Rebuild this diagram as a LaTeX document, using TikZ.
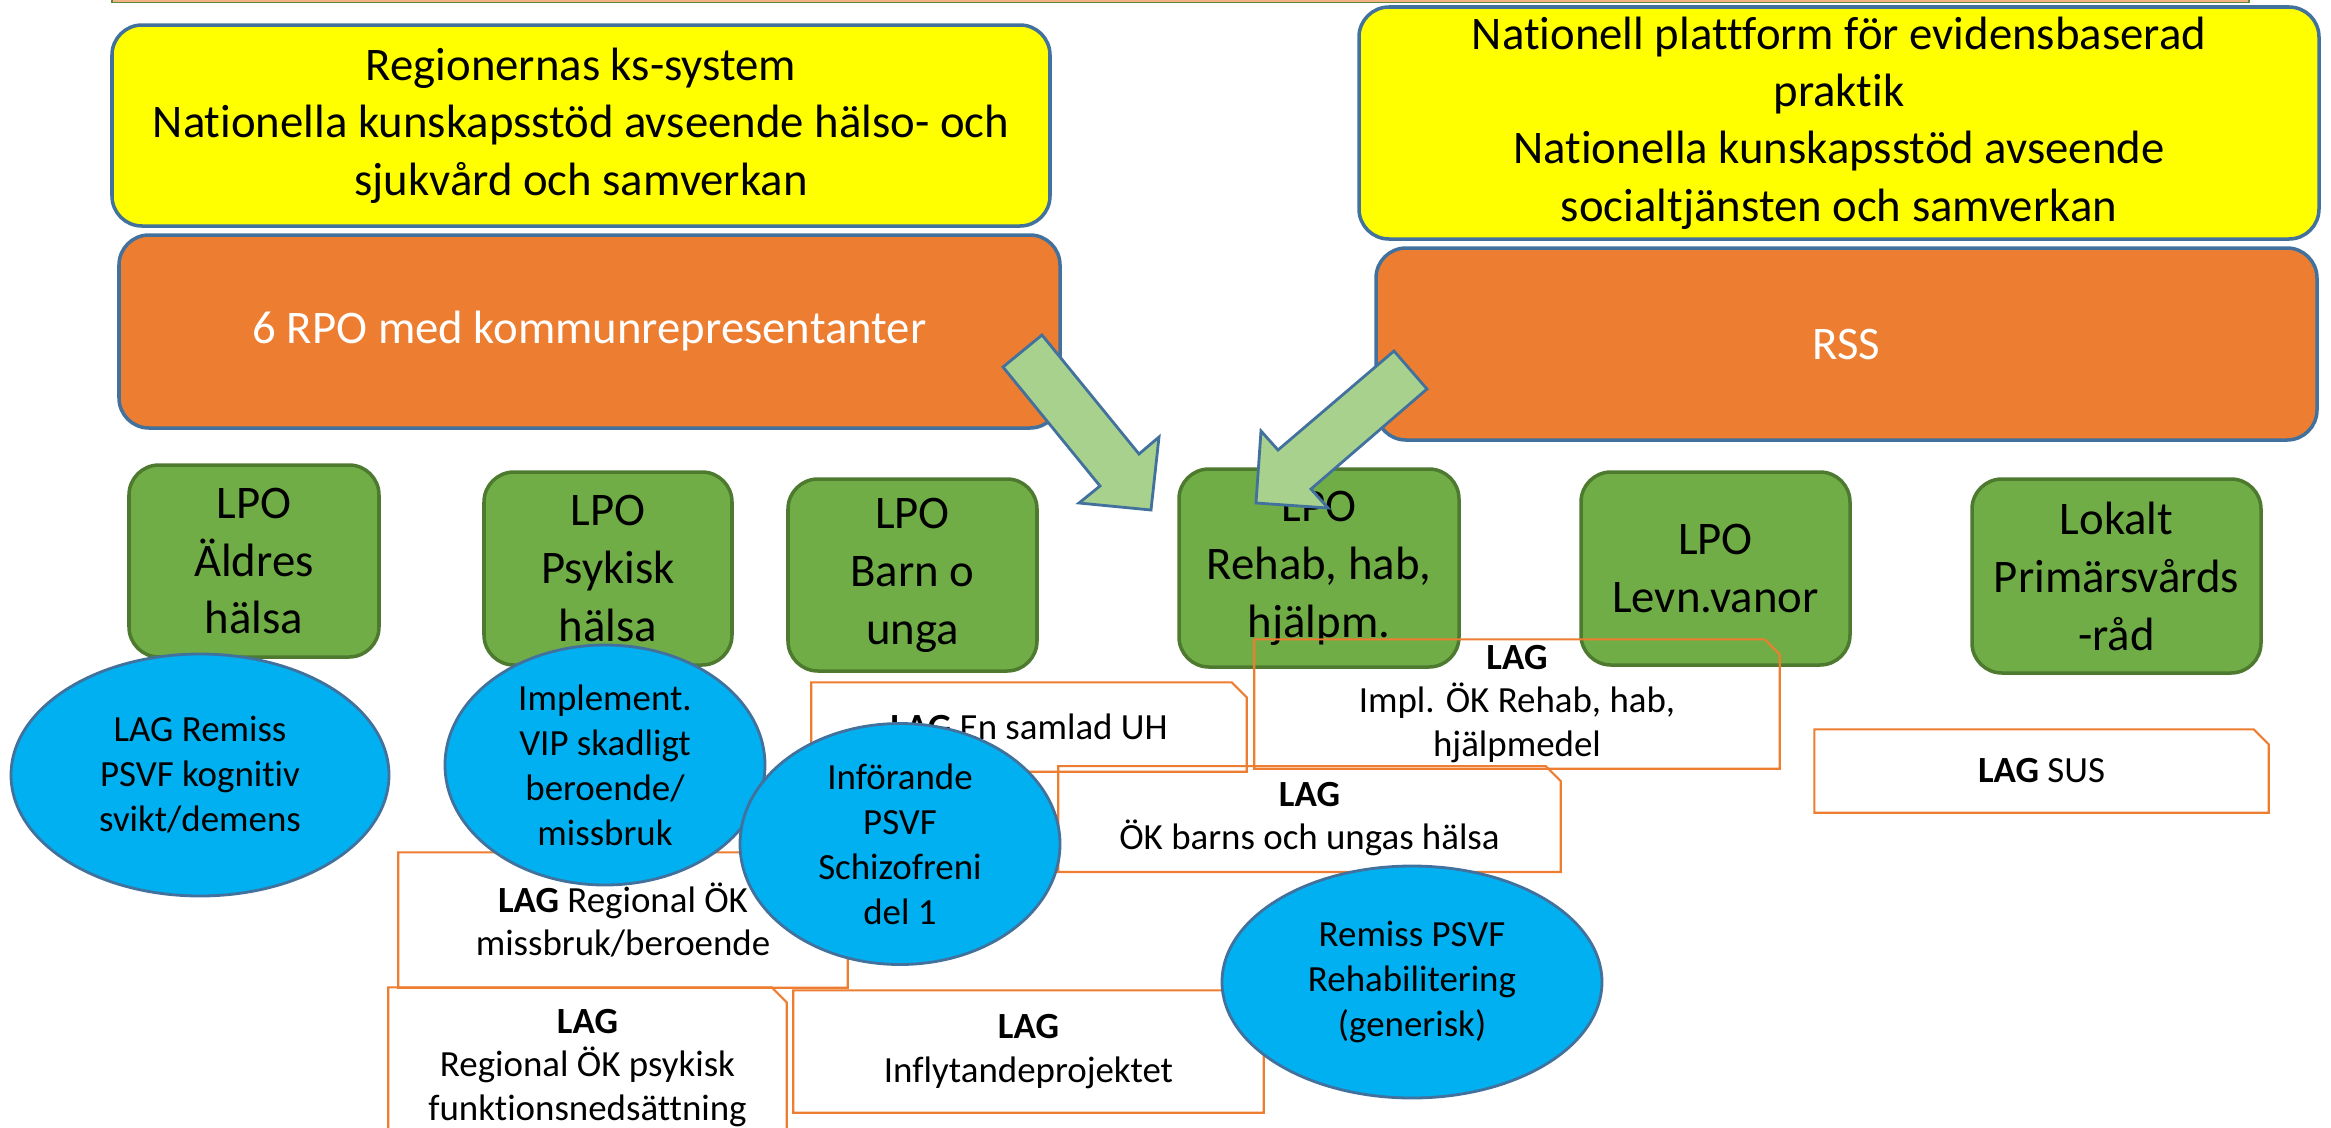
\documentclass[tikz,border=0pt]{standalone}
\usepackage{fontspec}
\setmainfont{Carlito}[Ligatures=NoCommon]
\usepackage{tikz}
\usetikzlibrary{shapes.geometric}
\definecolor{ksyellow}{HTML}{FFFF00}
\definecolor{rpoorange}{HTML}{ED7D31}
\definecolor{edgeblue}{HTML}{41719C}
\definecolor{lpogreen}{HTML}{70AD47}
\definecolor{lpoedge}{HTML}{4E7A30}
\definecolor{bubbleblue}{HTML}{00B0F0}
\definecolor{lagorange}{HTML}{ED7D31}
\definecolor{arrowgreen}{HTML}{A9D18E}
\definecolor{stripfill}{HTML}{F4B183}
\tikzset{
  ksbox/.style={
    rectangle,
    rounded corners=0.3cm,
    fill=ksyellow,
    draw=edgeblue, line width=1pt,
    inner sep=0pt,
    align=center,
    font=\fontsize{13.3}{16.3}\selectfont},
  rpobox/.style={ksbox, fill=rpoorange, text=white},
  lpo/.style={
    rectangle,
    rounded corners=0.3cm,
    fill=lpogreen,
    draw=lpoedge, line width=1pt,
    inner sep=0pt,
    align=center,
    font=\fontsize{13.3}{16.5}\selectfont},
  bubble/.style={
    ellipse,
    fill=bubbleblue,
    draw=edgeblue, line width=0.8pt,
    inner sep=0pt,
    align=center,
    font=\fontsize{10.5}{12.8}\selectfont},
  lagbox/.style={
    rectangle,
    inner sep=0pt,
    align=center,
    font=\fontsize{10.5}{12.4}\selectfont},
  lagline/.style={draw=lagorange, line width=0.6pt},
  blockarrow/.style={fill=arrowgreen, draw=edgeblue, line width=0.8pt},
}
\begin{document}
\begin{tikzpicture}
\useasboundingbox (0,0) rectangle (23.31,-11.28);
% strip at the top edge
\fill[stripfill] (1.12,0.3) rectangle (22.49,-0.02);
\draw[lpogreen!80!black, line width=0.3pt] (1.12,0.3) |- (22.49,-0.025) -- (22.49,0.3);
% knowledge systems
\node[ksbox, minimum width=9.38cm, minimum height=2.01cm] (ksleft) at (5.81,-1.255)
  {Regionernas ks-system\\ Nationella kunskapsstöd avseende hälso- och\\ sjukvård och samverkan};
\node[ksbox, minimum width=9.60cm, minimum height=2.32cm] (ksright) at (18.39,-1.23)
  {Nationell plattform för evidensbaserad\\ praktik\\ Nationella kunskapsstöd avseende\\ socialtjänsten och samverkan};
\node[rpobox, minimum width=9.41cm, minimum height=1.93cm] (rpo) at (5.895,-3.315) {6 RPO med kommunrepresentanter};
\node[rpobox, minimum width=9.41cm, minimum height=1.92cm] (rss) at (18.465,-3.44) {RSS};
% local groups
\node[lpo, minimum width=2.50cm, minimum height=1.92cm] (aldre) at (2.54,-5.61) {LPO\\ Äldres\\ hälsa};
\node[lpo, minimum width=2.48cm, minimum height=1.93cm] (psyk) at (6.08,-5.685) {LPO\\ Psykisk\\ hälsa};
\node[lpo, minimum width=2.49cm, minimum height=1.92cm] (barn) at (9.125,-5.75) {LPO\\ Barn o\\ unga};
\node[lpo, minimum width=2.80cm, minimum height=1.98cm] (rehab) at (13.19,-5.68) {LPO\\ Rehab, hab,\\ hjälpm.};
\node[lpo, minimum width=2.69cm, minimum height=1.93cm] (levn) at (17.155,-5.685) {LPO\\ Levn.vanor};
\node[lpo, minimum width=2.89cm, minimum height=1.94cm] (lokalt) at (21.165,-5.76) {Lokalt\\ Primärsvårds\\ -råd};
% LAG
\node[lagbox, minimum width=4.34cm, minimum height=0.88cm] (uh) at (10.29,-7.27) {\textbf{LAG} En samlad UH};
\node[lagbox, minimum width=5.01cm, minimum height=1.045cm] (barnlag) at (13.095,-8.19) {\textbf{LAG}\\ ÖK barns och ungas hälsa};
\node[lagbox, minimum width=5.24cm, minimum height=1.28cm] (impl) at (15.17,-7.04) {\textbf{LAG}\\ Impl. ÖK Rehab, hab,\\ hjälpmedel};
\node[lagbox, minimum width=4.53cm, minimum height=0.82cm] (sus) at (20.415,-7.71) {\textbf{LAG} SUS};
\node[lagbox, minimum width=4.48cm, minimum height=1.34cm] (miss) at (6.23,-9.2) {\textbf{LAG} Regional ÖK\\ missbruk/beroende};
\node[lagbox, minimum width=3.97cm, minimum height=1.60cm] (psyklag) at (5.875,-10.68) {\textbf{LAG}\\ Regional ÖK psykisk\\ funktionsnedsättning};
\node[lagbox, minimum width=4.69cm, minimum height=1.21cm] (infl) at (10.285,-10.515) {\textbf{LAG}\\ Inflytandeprojektet};
\foreach \n in {uh,barnlag,impl,sus,miss,psyklag,infl}
  \draw[lagline] (\n.north west) -- ([xshift=-0.15cm]\n.north east)
    -- ([yshift=-0.15cm]\n.north east) -- (\n.south east) -- (\n.south west) -- cycle;
% bubbles
\node[bubble, minimum width=3.78cm, minimum height=2.42cm] (remiss) at (2.00,-7.75) {LAG Remiss\\ PSVF kognitiv\\ svikt/demens};
\node[bubble, minimum width=3.20cm, minimum height=2.40cm] (vip) at (6.05,-7.65) {Implement.\\ VIP skadligt\\ beroende/\\ missbruk};
\node[bubble, minimum width=3.20cm, minimum height=2.41cm] (schizo) at (9.00,-8.44) {Införande\\ PSVF\\ Schizofreni\\ del 1};
\node[bubble, minimum width=3.80cm, minimum height=2.32cm] (generisk) at (14.12,-9.82) {Remiss PSVF\\ Rehabilitering\\ (generisk)};
% block arrows
\draw[blockarrow] (10.42,-3.35) -- (10.03,-3.67) -- (11.00,-4.86) -- (10.79,-5.03)
  -- (11.51,-5.10) -- (11.59,-4.37) -- (11.39,-4.54) -- cycle;
\draw[blockarrow] (13.94,-3.51) -- (12.78,-4.50) -- (12.61,-4.31) -- (12.56,-5.03)
  -- (13.28,-5.08) -- (13.11,-4.89) -- (14.27,-3.89) -- cycle;
\end{tikzpicture}
\end{document}
